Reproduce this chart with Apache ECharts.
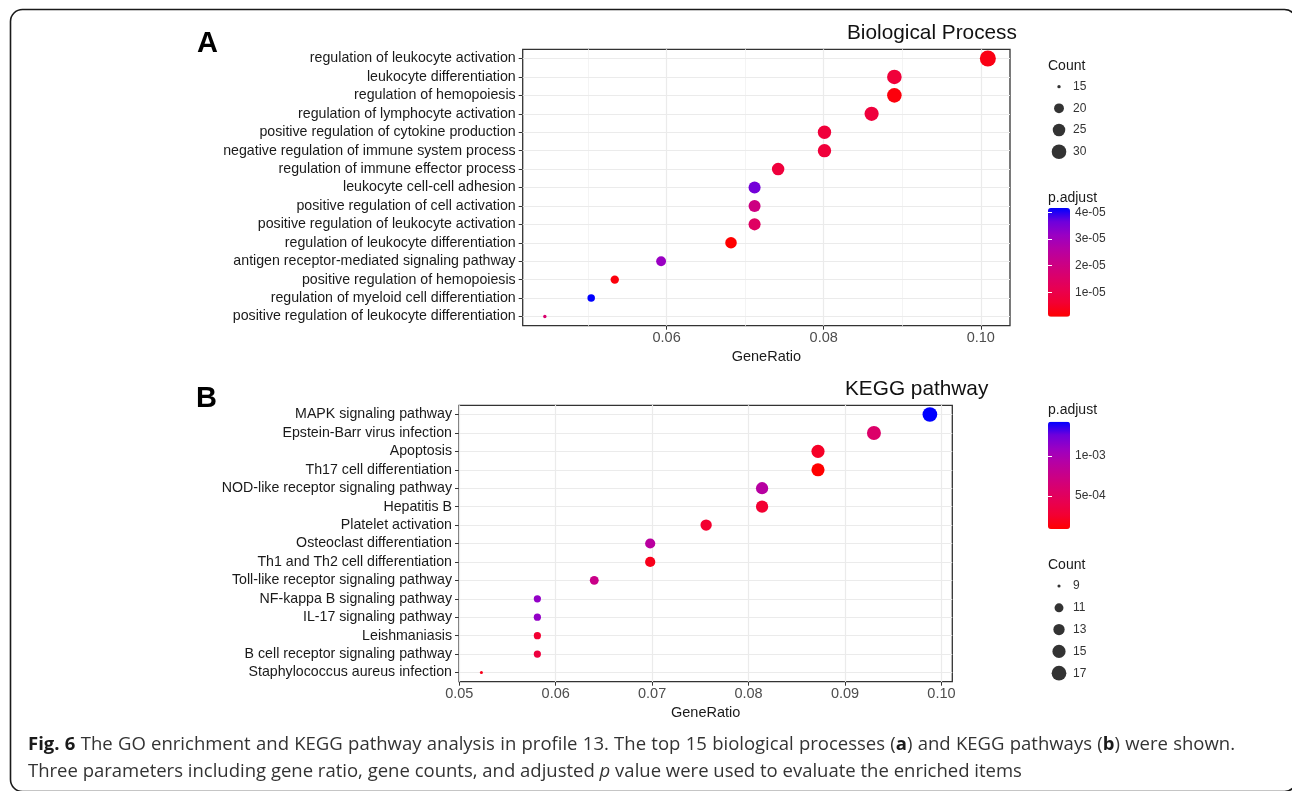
<!DOCTYPE html>
<html>
<head>
<meta charset="utf-8">
<script src="https://cdn.jsdelivr.net/npm/echarts@6/dist/echarts.min.js"></script>
<style>
html,body{margin:0;padding:0;background:#fff;}
#main{width:1292px;height:791px;}
</style>
</head>
<body>
<div id="main"></div>
<script>
// ---------- Panel A: GO Biological Process ----------
const bpTerms = [
  'regulation of leukocyte activation',
  'leukocyte differentiation',
  'regulation of hemopoiesis',
  'regulation of lymphocyte activation',
  'positive regulation of cytokine production',
  'negative regulation of immune system process',
  'regulation of immune effector process',
  'leukocyte cell-cell adhesion',
  'positive regulation of cell activation',
  'positive regulation of leukocyte activation',
  'regulation of leukocyte differentiation',
  'antigen receptor-mediated signaling pathway',
  'positive regulation of hemopoiesis',
  'regulation of myeloid cell differentiation',
  'positive regulation of leukocyte differentiation'
];
const bpRatio = [0.1009, 0.0890, 0.0890, 0.0861, 0.0801, 0.0801, 0.0742, 0.0712, 0.0712, 0.0712, 0.0682, 0.0593, 0.0534, 0.0504, 0.0445];
const bpCount = [34, 30, 30, 29, 27, 27, 25, 24, 24, 24, 23, 20, 18, 17, 15];
const bpPadj = [2.9e-6, 7.4e-6, 2.1e-6, 7.8e-6, 7.4e-6, 7.4e-6, 7.8e-6, 3.59e-5, 2.0e-5, 1.43e-5, 8.5e-7, 3.14e-5, 2.1e-6, 4.16e-5, 1.63e-5];
const bpXTicks = [0.06, 0.08, 0.10];
const bpXMinor = [0.05, 0.07, 0.09];
const bpCountLegend = [15, 20, 25, 30];
const bpPTicks = [1e-5, 2e-5, 3e-5, 4e-5];
const bpPLabels = ['1e-05', '2e-05', '3e-05', '4e-05'];

// ---------- Panel B: KEGG pathway ----------
const keggTerms = [
  'MAPK signaling pathway',
  'Epstein-Barr virus infection',
  'Apoptosis',
  'Th17 cell differentiation',
  'NOD-like receptor signaling pathway',
  'Hepatitis B',
  'Platelet activation',
  'Osteoclast differentiation',
  'Th1 and Th2 cell differentiation',
  'Toll-like receptor signaling pathway',
  'NF-kappa B signaling pathway',
  'IL-17 signaling pathway',
  'Leishmaniasis',
  'B cell receptor signaling pathway',
  'Staphylococcus aureus infection'
];
const keggRatio = [0.0988, 0.0930, 0.0872, 0.0872, 0.0814, 0.0814, 0.0756, 0.0698, 0.0698, 0.0640, 0.0581, 0.0581, 0.0581, 0.0581, 0.0523];
const keggCount = [17, 16, 15, 15, 14, 14, 13, 12, 12, 11, 10, 10, 10, 10, 9];
const keggPadj = [1.43e-3, 5.7e-4, 2.2e-4, 8.75e-5, 9.06e-4, 2.6e-4, 2.5e-4, 8.9e-4, 1.8e-4, 7.6e-4, 1.12e-3, 1.12e-3, 2.6e-4, 3.3e-4, 1.8e-4];
const keggXTicks = [0.05, 0.06, 0.07, 0.08, 0.09, 0.10];
const keggXMinor = [0.055, 0.065, 0.075, 0.085, 0.095];
const keggCountLegend = [9, 11, 13, 15, 17];
const keggPTicks = [5e-4, 1e-3];
const keggPLabels = ['5e-04', '1e-03'];

// ---------- caption ----------
// words separated by spaces; inside a word, segments separated by '^', style after '|' (b bold, i italic)
const captionLine1 = 'Fig.|b 6|b The GO enrichment and KEGG pathway analysis in profile 13. The top 15 biological processes (^a|b^) and KEGG pathways (^b|b^) were shown.';
const captionLine2 = 'Three parameters including gene ratio, gene counts, and adjusted p|i value were used to evaluate the enriched items';

// ---------- styling ----------
const FONT = '"Liberation Sans", Arial, Helvetica, sans-serif';
const CAP_FONT = '"Open Sans", "Noto Sans", sans-serif';
const gradient = ['#FF0000', '#F30031', '#E80050', '#DA006C', '#C90088', '#B500A5', '#9A00C3', '#6E00DC', '#0000FF'];
const GRID_MAJOR = '#EBEBEB';
const GRID_MINOR = '#F4F4F4';

const minOf = a => Math.min.apply(null, a);
const maxOf = a => Math.max.apply(null, a);
function makeSize(counts, scale) {
  const lo = minOf(counts), hi = maxOf(counts);
  return c => scale * (2.845 * (1 + 5 * Math.sqrt((c - lo) / (hi - lo))) + 0.945);
}
const sizeA = makeSize(bpCount, 0.888);
const sizeB = makeSize(keggCount, 0.817);

function expand(a) { const lo = minOf(a), hi = maxOf(a), d = (hi - lo) * 0.05; return [lo - d, hi + d]; }
const xRangeA = expand(bpRatio);
const xRangeB = expand(keggRatio);
const pRangeA = [minOf(bpPadj), maxOf(bpPadj)];
const pRangeB = [minOf(keggPadj), maxOf(keggPadj)];

const G = {
  A: { left: 522.7, top: 49.3, width: 487.3, height: 276.4 },
  B: { left: 459, top: 405.3, width: 493.3, height: 276.4 },
  cbA: { left: 1048, top: 208, width: 22, height: 108.7 },
  cbB: { left: 1048, top: 421.7, width: 22, height: 107.3 },
  szA: { left: 1048, top: 75.8, width: 22, height: 86.8 },
  szB: { left: 1048, top: 575.1, width: 22, height: 109 }
};

function mainX(gridIndex, range, ticks) {
  return {
    type: 'value', gridIndex, min: range[0], max: range[1],
    name: 'GeneRatio', nameLocation: 'middle', nameGap: 24,
    nameTextStyle: { fontFamily: FONT, fontSize: 14.5, color: '#1a1a1a' },
    axisLine: { show: false },
    axisTick: { show: true, length: 4, customValues: ticks, lineStyle: { color: '#333', width: 1 } },
    axisLabel: { customValues: ticks, margin: 5, fontFamily: FONT, fontSize: 14.5, color: '#4D4D4D',
      formatter: v => v.toFixed(2) },
    splitLine: { show: false }
  };
}
function mainY(gridIndex, terms) {
  return {
    type: 'category', gridIndex, data: terms, inverse: true,
    axisLine: { show: false },
    axisTick: { show: true, alignWithLabel: true, length: 4, interval: 0, lineStyle: { color: '#333' } },
    axisLabel: { interval: 0, margin: 7, fontFamily: FONT, fontSize: 14.2, color: '#1a1a1a' },
    splitLine: { show: false }
  };
}
function cbY(gridIndex, range, ticks, labels, pos) {
  return {
    type: 'value', gridIndex, min: range[0], max: range[1], position: pos, z: 10,
    axisLine: { show: false },
    axisTick: { show: true, inside: true, length: 4, customValues: ticks, lineStyle: { color: '#ffffff', width: 1 } },
    axisLabel: { show: pos === 'right', customValues: ticks, margin: 5, fontFamily: FONT, fontSize: 12, color: '#333',
      formatter: v => { let k = 0; ticks.forEach((t, i) => { if (Math.abs(t - v) < Math.abs(ticks[k] - v)) k = i; }); return labels[k]; } },
    splitLine: { show: false }
  };
}
function szY(gridIndex, counts) {
  return {
    type: 'category', gridIndex, data: counts.map(String), inverse: true, position: 'right',
    axisLine: { show: false }, axisTick: { show: false },
    axisLabel: { interval: 0, margin: 3, fontFamily: FONT, fontSize: 12, color: '#333' },
    splitLine: { show: false }
  };
}
function gridLines(xAxisIndex, yAxisIndex, majors, minors, terms) {
  const data = [];
  minors.forEach(v => data.push({ xAxis: v, lineStyle: { color: GRID_MINOR, width: 1, type: 'solid' } }));
  majors.forEach(v => data.push({ xAxis: v, lineStyle: { color: GRID_MAJOR, width: 1.2, type: 'solid' } }));
  terms.forEach(t => data.push({ yAxis: t, lineStyle: { color: GRID_MAJOR, width: 1.2, type: 'solid' } }));
  return {
    type: 'line', xAxisIndex, yAxisIndex, data: [], z: 1, silent: true,
    markLine: { silent: true, symbol: ['none', 'none'], label: { show: false }, emphasis: { disabled: true }, animation: false, data }
  };
}

// caption layout (justified first line)
const CAP_SIZE = 18.5;
const measureCtx = document.createElement('canvas').getContext('2d');
function segFont(st) {
  return (st === 'b' ? 'bold ' : st === 'i' ? 'italic ' : '') + CAP_SIZE + 'px ' + CAP_FONT;
}
function parseWords(line) {
  return line.split(' ').map(w => w.split('^').filter(s => s.length).map(s => {
    const p = s.split('|'); return [p[0], p[1] || 'n'];
  }));
}
function wordWidth(word) {
  return word.reduce((acc, s) => { measureCtx.font = segFont(s[1]); return acc + measureCtx.measureText(s[0]).width; }, 0);
}
function wordRich(word) {
  return word.map(s => s[1] === 'n' ? s[0] : '{' + s[1] + '|' + s[0] + '}').join('');
}
const richStyles = {
  b: { fontWeight: 'bold', fontFamily: CAP_FONT, fontSize: CAP_SIZE, fill: '#1a1a1a' },
  i: { fontStyle: 'italic', fontFamily: CAP_FONT, fontSize: CAP_SIZE, fill: '#333' }
};
function captionElements(line, x0, x1, y, justify) {
  const words = parseWords(line);
  const widths = words.map(wordWidth);
  measureCtx.font = segFont('n');
  const natural = measureCtx.measureText(' ').width;
  const sp = justify ? Math.max(natural, (x1 - x0 - widths.reduce((a, b) => a + b, 0)) / (words.length - 1)) : natural;
  let x = x0;
  return words.map((w, i) => {
    const el = { type: 'text', silent: true, style: { text: wordRich(w), x, y, font: segFont('n'), fill: '#333', textVerticalAlign: 'middle', rich: richStyles } };
    x += widths[i] + sp;
    return el;
  });
}

const chart = echarts.init(document.getElementById('main'), null, { renderer: 'canvas' });
const option = {
  animation: false,
  backgroundColor: '#ffffff',
  grid: [
    Object.assign({ show: true, borderColor: '#333', borderWidth: 1.3, backgroundColor: '#fff' }, G.A),
    Object.assign({ show: true, borderColor: '#333', borderWidth: 1.3, backgroundColor: '#fff' }, G.B),
    G.cbA, G.cbB, G.szA, G.szB
  ],
  xAxis: [
    mainX(0, xRangeA, bpXTicks),
    mainX(1, xRangeB, keggXTicks),
    { type: 'value', gridIndex: 2, show: false },
    { type: 'value', gridIndex: 3, show: false },
    { type: 'value', gridIndex: 4, show: false, min: -1, max: 1 },
    { type: 'value', gridIndex: 5, show: false, min: -1, max: 1 }
  ],
  yAxis: [
    mainY(0, bpTerms),
    mainY(1, keggTerms),
    cbY(2, pRangeA, bpPTicks, bpPLabels, 'right'),
    cbY(2, pRangeA, bpPTicks, bpPLabels, 'left'),
    cbY(3, pRangeB, keggPTicks, keggPLabels, 'right'),
    cbY(3, pRangeB, keggPTicks, keggPLabels, 'left'),
    szY(4, bpCountLegend),
    szY(5, keggCountLegend)
  ],
  visualMap: [
    { type: 'continuous', seriesIndex: 0, dimension: 2, min: pRangeA[0], max: pRangeA[1],
      inRange: { color: gradient }, calculable: false, hoverLink: false, padding: 0,
      left: G.cbA.left, top: G.cbA.top, itemWidth: G.cbA.width, itemHeight: G.cbA.height, text: null, z: 2 },
    { type: 'continuous', seriesIndex: 1, dimension: 2, min: pRangeB[0], max: pRangeB[1],
      inRange: { color: gradient }, calculable: false, hoverLink: false, padding: 0,
      left: G.cbB.left, top: G.cbB.top, itemWidth: G.cbB.width, itemHeight: G.cbB.height, text: null, z: 2 }
  ],
  series: [
    { type: 'scatter', xAxisIndex: 0, yAxisIndex: 0, z: 10,
      data: bpTerms.map((t, i) => [bpRatio[i], t, bpPadj[i], bpCount[i]]),
      symbolSize: v => sizeA(v[3]), itemStyle: { opacity: 1 } },
    { type: 'scatter', xAxisIndex: 1, yAxisIndex: 1, z: 10,
      data: keggTerms.map((t, i) => [keggRatio[i], t, keggPadj[i], keggCount[i]]),
      symbolSize: v => sizeB(v[3]), itemStyle: { opacity: 1 } },
    { type: 'scatter', xAxisIndex: 4, yAxisIndex: 6, z: 10,
      data: bpCountLegend.map(c => [0, String(c), c]),
      symbolSize: v => sizeA(v[2]), itemStyle: { color: '#000' } },
    { type: 'scatter', xAxisIndex: 5, yAxisIndex: 7, z: 10,
      data: keggCountLegend.map(c => [0, String(c), c]),
      symbolSize: v => sizeB(v[2]), itemStyle: { color: '#000' } },
    gridLines(0, 0, bpXTicks, bpXMinor, bpTerms),
    gridLines(1, 1, keggXTicks, keggXMinor, keggTerms)
  ],
  graphic: [
    { type: 'rect', silent: true, z: 100,
      shape: { x: 10.5, y: 9.5, width: 1286, height: 782, r: 12 },
      style: { fill: 'none', stroke: '#1a1a1a', lineWidth: 1.6 } },
    { type: 'text', style: { text: 'A', x: 197, y: 44, font: 'bold 29px ' + FONT, fill: '#000', textVerticalAlign: 'middle' } },
    { type: 'text', style: { text: 'B', x: 196, y: 398.5, font: 'bold 29px ' + FONT, fill: '#000', textVerticalAlign: 'middle' } },
    { type: 'text', style: { text: 'Biological Process', x: 847, y: 33, font: '20.8px ' + FONT, fill: '#111', textVerticalAlign: 'middle' } },
    { type: 'text', style: { text: 'KEGG pathway', x: 845, y: 389, font: '20.8px ' + FONT, fill: '#111', textVerticalAlign: 'middle' } },
    { type: 'text', style: { text: 'Count', x: 1048, y: 66, font: '14px ' + FONT, fill: '#1a1a1a', textVerticalAlign: 'middle' } },
    { type: 'text', style: { text: 'p.adjust', x: 1048, y: 198, font: '14px ' + FONT, fill: '#1a1a1a', textVerticalAlign: 'middle' } },
    { type: 'text', style: { text: 'p.adjust', x: 1048, y: 410, font: '14px ' + FONT, fill: '#1a1a1a', textVerticalAlign: 'middle' } },
    { type: 'text', style: { text: 'Count', x: 1048, y: 565, font: '14px ' + FONT, fill: '#1a1a1a', textVerticalAlign: 'middle' } }
  ].concat(captionElements(captionLine1, 28, 1235, 745, true))
   .concat(captionElements(captionLine2, 28, 0, 772, false))
};
chart.setOption(option);
</script>
</body>
</html>
